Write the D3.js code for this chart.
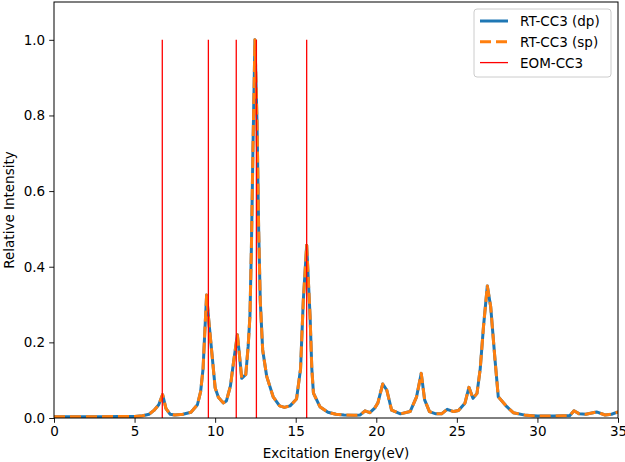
<!DOCTYPE html>
<html><head><meta charset="utf-8">
<script src="https://cdn.jsdelivr.net/npm/d3@7"></script>
<style>
html,body{margin:0;padding:0;background:#fff;}
text{font-family:"DejaVu Sans",sans-serif;}
</style></head>
<body><svg id="c" width="625" height="462"></svg>
<script>
// Spectrum sample energies (eV)
const energies = [0, 1, 2, 3, 4, 5, 5.5, 5.9, 6.2, 6.5, 6.74, 6.95, 7.2, 7.5, 8.0, 8.5, 8.9, 9.1, 9.25, 9.35, 9.47, 9.6, 9.8, 10.0, 10.2, 10.5, 10.7, 10.95, 11.15, 11.38, 11.5, 11.65, 11.9, 12.05, 12.16, 12.25, 12.35, 12.47, 12.6, 12.7, 12.8, 12.95, 13.2, 13.6, 14.0, 14.3, 14.65, 15.05, 15.3, 15.47, 15.68, 15.89, 16.0, 16.1, 16.5, 17.0, 17.5, 18.0, 18.6, 19.0, 19.3, 19.6, 19.9, 20.1, 20.4, 20.65, 20.95, 21.5, 22.1, 22.5, 22.79, 23.0, 23.3, 23.7, 24.05, 24.4, 24.8, 25.1, 25.5, 25.75, 26.0, 26.25, 26.45, 26.65, 26.89, 27.1, 27.37, 27.57, 28.1, 28.5, 29.3, 30.0, 30.6, 31.0, 31.6, 32.0, 32.27, 32.6, 33.0, 33.67, 34.2, 34.6, 35.0];
// RT-CC3 (dp) relative intensity
const intensityDp = [0.003, 0.003, 0.003, 0.003, 0.004, 0.004, 0.006, 0.01, 0.02, 0.035, 0.062, 0.025, 0.01, 0.008, 0.01, 0.015, 0.035, 0.07, 0.13, 0.22, 0.325, 0.26, 0.17, 0.08, 0.055, 0.04, 0.045, 0.085, 0.15, 0.22, 0.17, 0.105, 0.115, 0.19, 0.27, 0.45, 0.72, 1.0, 0.78, 0.5, 0.31, 0.18, 0.11, 0.056, 0.032, 0.028, 0.032, 0.05, 0.13, 0.31, 0.457, 0.27, 0.13, 0.066, 0.03, 0.015, 0.01, 0.008, 0.007, 0.008, 0.019, 0.014, 0.026, 0.04, 0.09, 0.074, 0.021, 0.011, 0.017, 0.056, 0.118, 0.048, 0.017, 0.011, 0.011, 0.023, 0.017, 0.02, 0.039, 0.081, 0.052, 0.065, 0.13, 0.24, 0.349, 0.294, 0.153, 0.056, 0.03, 0.014, 0.007, 0.005, 0.005, 0.005, 0.006, 0.006, 0.019, 0.011, 0.01, 0.016, 0.008, 0.01, 0.016];
// RT-CC3 (sp) relative intensity (indistinguishable from dp)
const intensitySp = [0.003, 0.003, 0.003, 0.003, 0.004, 0.004, 0.006, 0.01, 0.02, 0.035, 0.062, 0.025, 0.01, 0.008, 0.01, 0.015, 0.035, 0.07, 0.13, 0.22, 0.325, 0.26, 0.17, 0.08, 0.055, 0.04, 0.045, 0.085, 0.15, 0.22, 0.17, 0.105, 0.115, 0.19, 0.27, 0.45, 0.72, 1.0, 0.78, 0.5, 0.31, 0.18, 0.11, 0.056, 0.032, 0.028, 0.032, 0.05, 0.13, 0.31, 0.457, 0.27, 0.13, 0.066, 0.03, 0.015, 0.01, 0.008, 0.007, 0.008, 0.019, 0.014, 0.026, 0.04, 0.09, 0.074, 0.021, 0.011, 0.017, 0.056, 0.118, 0.048, 0.017, 0.011, 0.011, 0.023, 0.017, 0.02, 0.039, 0.081, 0.052, 0.065, 0.13, 0.24, 0.349, 0.294, 0.153, 0.056, 0.03, 0.014, 0.007, 0.005, 0.005, 0.005, 0.006, 0.006, 0.019, 0.011, 0.01, 0.016, 0.008, 0.01, 0.016];
// EOM-CC3 stick energies and heights
const eomEnergies = [6.72, 9.58, 11.31, 12.56, 15.68];
const eomHeights = [1, 1, 1, 1, 1];
const xTicks = [0, 5, 10, 15, 20, 25, 30, 35];
const yTicks = [0.0, 0.2, 0.4, 0.6, 0.8, 1.0];
const legendLabels = ["RT-CC3 (dp)", "RT-CC3 (sp)", "EOM-CC3"];

const svg = d3.select("#c");
const L = 54, R = 618, T = 2, B = 418;
const x = d3.scaleLinear().domain([0, 35]).range([L, R]);
const y = d3.scaleLinear().domain([0, 1.1]).range([B, T]);
const fs = 13.5;

svg.append("defs").append("clipPath").attr("id", "clip")
  .append("rect").attr("x", L).attr("y", T).attr("width", R - L).attr("height", B - T);

const g = svg.append("g").attr("clip-path", "url(#clip)");
const line = d3.line().x(d => x(d[0])).y(d => y(d[1]));
const dp = energies.map((e, i) => [e, intensityDp[i]]);
const sp = energies.map((e, i) => [e, intensitySp[i]]);

g.append("path").attr("d", line(dp)).attr("fill", "none")
  .attr("stroke", "#1f77b4").attr("stroke-width", 3).attr("stroke-linejoin", "round");
g.append("path").attr("d", line(sp)).attr("fill", "none")
  .attr("stroke", "#ff7f0e").attr("stroke-width", 3).attr("stroke-dasharray", "11,5")
  .attr("stroke-linejoin", "round");
g.selectAll("line.eom").data(eomEnergies).enter().append("line")
  .attr("x1", d => x(d)).attr("x2", d => x(d))
  .attr("y1", y(0)).attr("y2", (d, i) => y(eomHeights[i]))
  .attr("stroke", "#ff0000").attr("stroke-width", 1.3);

// axes
const xa = svg.append("g").attr("transform", `translate(0,${B})`)
  .call(d3.axisBottom(x).tickValues(xTicks).tickSize(4.8).tickPadding(4).tickFormat(d3.format("d")));
const ya = svg.append("g").attr("transform", `translate(${L},0)`)
  .call(d3.axisLeft(y).tickValues(yTicks).tickSize(4.8).tickPadding(4).tickFormat(d3.format(".1f")));
[xa, ya].forEach(a => {
  a.select(".domain").remove();
  a.selectAll("text").attr("font-size", fs).attr("fill", "#000").attr("font-family", "DejaVu Sans");
  a.selectAll("line").attr("stroke", "#000").attr("stroke-width", 0.9);
});
svg.append("rect").attr("x", L).attr("y", T).attr("width", R - L).attr("height", B - T)
  .attr("fill", "none").attr("stroke", "#000").attr("stroke-width", 1);

svg.append("text").attr("x", (L + R) / 2).attr("y", 458).attr("text-anchor", "middle")
  .attr("font-size", fs).text("Excitation Energy(eV)");
svg.append("text").attr("transform", `translate(14,${(T + B) / 2}) rotate(-90)`)
  .attr("text-anchor", "middle").attr("font-size", fs).text("Relative Intensity");

// legend
const lg = svg.append("g");
lg.append("rect").attr("x", 474).attr("y", 9).attr("width", 137).attr("height", 68)
  .attr("rx", 3).attr("fill", "#fff").attr("fill-opacity", 0.8)
  .attr("stroke", "#cccccc").attr("stroke-width", 1);
const styles = [
  {c: "#1f77b4", w: 3, d: null},
  {c: "#ff7f0e", w: 3, d: "11,5"},
  {c: "#ff0000", w: 1.3, d: null}
];
legendLabels.forEach((lab, i) => {
  const cy = 21 + i * 20.8;
  lg.append("line").attr("x1", 480).attr("x2", 508).attr("y1", cy).attr("y2", cy)
    .attr("stroke", styles[i].c).attr("stroke-width", styles[i].w)
    .attr("stroke-dasharray", styles[i].d);
  lg.append("text").attr("x", 520).attr("y", cy + 5).attr("font-size", fs).text(lab);
});
</script></body></html>
